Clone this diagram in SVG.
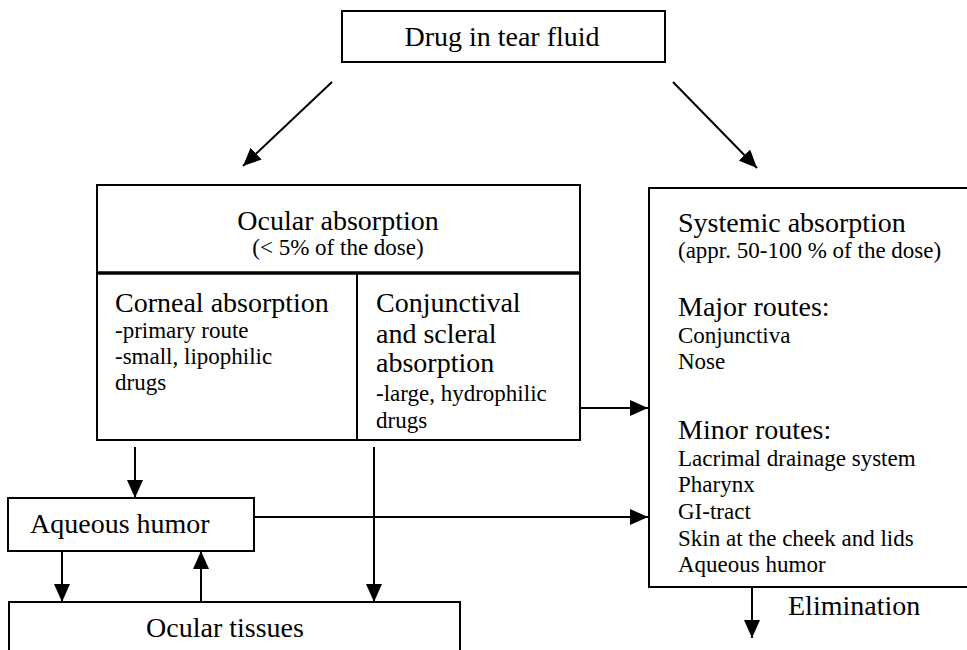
<svg xmlns="http://www.w3.org/2000/svg" width="967" height="650" viewBox="0 0 967 650">
<style>
  .box { fill: #fff; stroke: #000; stroke-width: 2; }
  .ln { stroke: #000; stroke-width: 2; fill: none; }
  .big { font-family: "Liberation Serif", "Times New Roman", serif; font-size: 28px; fill: #000; }
  .sm { font-family: "Liberation Serif", "Times New Roman", serif; font-size: 23px; fill: #000; }
  .mid { text-anchor: middle; }
</style>
<defs>
  <marker id="ah" markerUnits="userSpaceOnUse" markerWidth="20" markerHeight="16" refX="18" refY="8" orient="auto">
    <path d="M0,0 L18,8 L0,16 Z" fill="#000"/>
  </marker>
</defs>
<rect width="967" height="650" fill="#fff"/>

<g id="connectors">
  <line class="ln" x1="332" y1="82" x2="243" y2="166" marker-end="url(#ah)"/>
  <line class="ln" x1="673" y1="82" x2="757" y2="168" marker-end="url(#ah)"/>
  <line class="ln" x1="580" y1="408" x2="648" y2="408" marker-end="url(#ah)"/>
  <line class="ln" x1="135" y1="447" x2="135" y2="498" marker-end="url(#ah)"/>
  <line class="ln" x1="254" y1="517" x2="648" y2="517" marker-end="url(#ah)"/>
  <line class="ln" x1="374" y1="447" x2="374" y2="602" marker-end="url(#ah)"/>
  <line class="ln" x1="62" y1="551" x2="62" y2="602" marker-end="url(#ah)"/>
  <line class="ln" x1="201" y1="602" x2="201" y2="551" marker-end="url(#ah)"/>
  <line class="ln" x1="752" y1="587" x2="752" y2="638" marker-end="url(#ah)"/>
</g>

<g id="drug-tear-fluid">
  <rect class="box" x="342" y="11" width="323" height="51"/>
  <text class="big mid" x="502" y="46">Drug in tear fluid</text>
</g>

<g id="ocular-absorption">
  <rect class="box" x="97" y="185" width="483" height="255"/>
  <line x1="97" y1="273" x2="580" y2="273" stroke="#000" stroke-width="3.5"/>
  <line class="ln" x1="357" y1="273" x2="357" y2="440"/>
  <text class="big mid" x="338" y="230">Ocular absorption</text>
  <text class="sm mid" x="338" y="255">(&lt; 5% of the dose)</text>
</g>

<g id="corneal-absorption">
  <text class="big" x="115" y="312">Corneal absorption</text>
  <text class="sm" x="115" y="338">-primary route</text>
  <text class="sm" x="115" y="364">-small, lipophilic</text>
  <text class="sm" x="115" y="390">drugs</text>
</g>

<g id="conjunctival-absorption">
  <text class="big" x="376" y="312">Conjunctival</text>
  <text class="big" x="376" y="343">and scleral</text>
  <text class="big" x="376" y="372">absorption</text>
  <text class="sm" x="376" y="401">-large, hydrophilic</text>
  <text class="sm" x="376" y="428">drugs</text>
</g>

<g id="systemic-absorption">
  <rect class="box" x="649" y="188" width="330" height="399"/>
  <text class="big" x="678" y="232">Systemic absorption</text>
  <text class="sm" x="678" y="258">(appr. 50-100 % of the dose)</text>
  <text class="big" x="678" y="316">Major routes:</text>
  <text class="sm" x="678" y="343">Conjunctiva</text>
  <text class="sm" x="678" y="369">Nose</text>
  <text class="big" x="678" y="439">Minor routes:</text>
  <text class="sm" x="678" y="466">Lacrimal drainage system</text>
  <text class="sm" x="678" y="492">Pharynx</text>
  <text class="sm" x="678" y="519">GI-tract</text>
  <text class="sm" x="678" y="546">Skin at the cheek and lids</text>
  <text class="sm" x="678" y="572">Aqueous humor</text>
</g>

<g id="aqueous-humor">
  <rect class="box" x="8" y="498" width="246" height="53"/>
  <text class="big" x="30" y="533">Aqueous humor</text>
</g>

<g id="ocular-tissues">
  <rect class="box" x="9" y="602" width="451" height="60"/>
  <text class="big mid" x="225" y="637">Ocular tissues</text>
</g>

<g id="elimination">
  <text class="big" x="788" y="615">Elimination</text>
</g>
</svg>
